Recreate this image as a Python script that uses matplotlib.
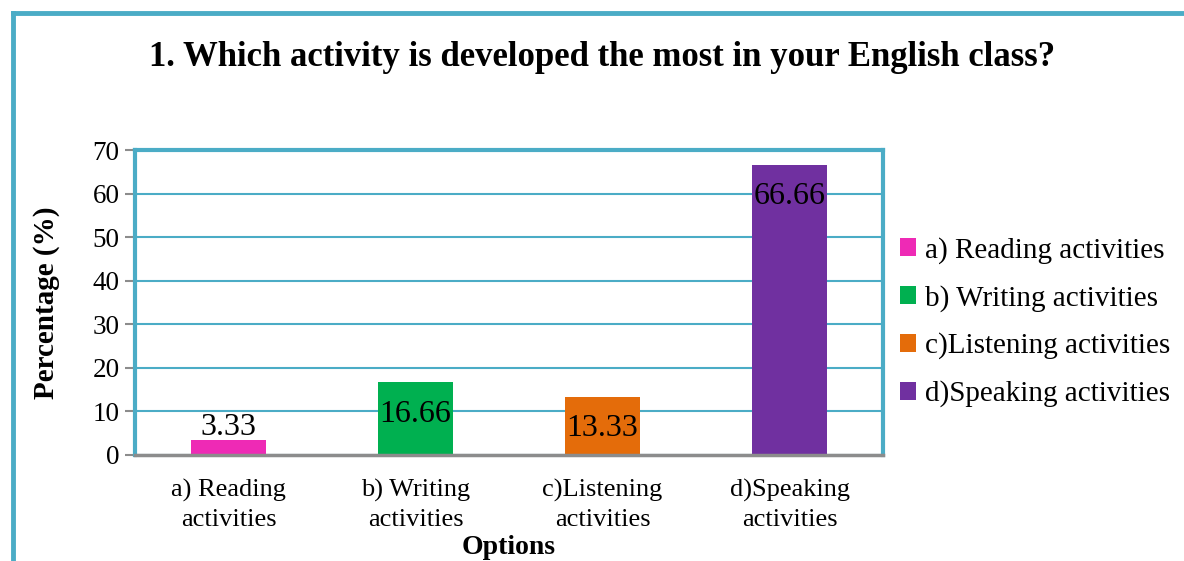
import numpy as np
import matplotlib.pyplot as plt
from matplotlib.lines import Line2D
from matplotlib.patches import Patch

# Dados do gráfico
opcoes = ["a) Reading\nactivities", "b) Writing\nactivities",
          "c)Listening\nactivities", "d)Speaking\nactivities"]
legendas = ["a) Reading activities", "b) Writing activities",
            "c)Listening activities", "d)Speaking activities"]
porcentagens = [3.33, 16.66, 13.33, 66.66]
rotulos = ["3.33", "16.66", "13.33", "66.66"]
cores = ["#EE2AB5", "#00B050", "#E46C0A", "#7030A0"]

azul = "#4BACC6"
cinza = "#8C8C8C"

plt.rcParams["font.family"] = ["Liberation Serif", "DejaVu Serif"]

fig = plt.figure(figsize=(11.84, 5.61), dpi=100)
fig.patch.set_facecolor("white")

# Moldura externa (só as bordas superior e esquerda aparecem)
fig.add_artist(Line2D([13 / 1184, 13 / 1184], [0, 1 - 13 / 561],
                      transform=fig.transFigure, color=azul, lw=3.5))
fig.add_artist(Line2D([13 / 1184, 1], [1 - 13 / 561, 1 - 13 / 561],
                      transform=fig.transFigure, color=azul, lw=3.5))

ax = fig.add_axes([135 / 1184, 1 - 455 / 561, 748 / 1184, 305 / 561])

x = np.arange(len(opcoes))
barras = ax.bar(x, porcentagens, width=0.4, color=cores, zorder=3)

# Rótulos dos valores
for i, (b, v, r) in enumerate(zip(barras, porcentagens, rotulos)):
    if i == 0:
        ax.text(b.get_x() + b.get_width() / 2, v - 0.3, r,
                ha="center", va="bottom", fontsize=23, zorder=4)
    else:
        ax.text(b.get_x() + b.get_width() / 2, v - 4.0, r,
                ha="center", va="top", fontsize=23, zorder=4)

ax.set_xlim(-0.5, 3.5)
ax.set_ylim(0, 70)
ax.set_yticks(range(0, 71, 10))
ax.set_xticks(x)
ax.set_xticklabels(opcoes, fontsize=19, linespacing=1.4)
ax.tick_params(axis="y", labelsize=19.5, length=7, width=1.5, color=cinza, pad=4)
ax.tick_params(axis="x", length=0, pad=17)

ax.grid(axis="y", color=azul, lw=1.5, zorder=0)
ax.set_axisbelow(True)

for lado in ["top", "left", "right"]:
    ax.spines[lado].set_color(azul)
    ax.spines[lado].set_linewidth(3)
ax.spines["bottom"].set_color(cinza)
ax.spines["bottom"].set_linewidth(2.5)
ax.spines["bottom"].set_zorder(5)

ax.set_ylabel("Percentage (%)", fontsize=21, fontweight="bold")
ax.yaxis.set_label_coords(-0.10, 0.5)
fig.text(509 / 1184, 1 - 547 / 561, "Options", fontsize=20,
         fontweight="bold", ha="center", va="center")

fig.text(602 / 1184, 1 - 58 / 561,
         "1. Which activity is developed the most in your English class?",
         fontsize=25, fontweight="bold", ha="center", va="center")

handles = [Patch(facecolor=c, edgecolor="none") for c in cores]
fig.legend(handles, legendas, loc="center left",
           bbox_to_anchor=(874 / 1184, 1 - 322 / 561), frameon=False,
           fontsize=21, handlelength=0.55, handleheight=0.55,
           handletextpad=0.3, labelspacing=0.72)

fig.savefig("out.png", dpi=100, facecolor="white")
